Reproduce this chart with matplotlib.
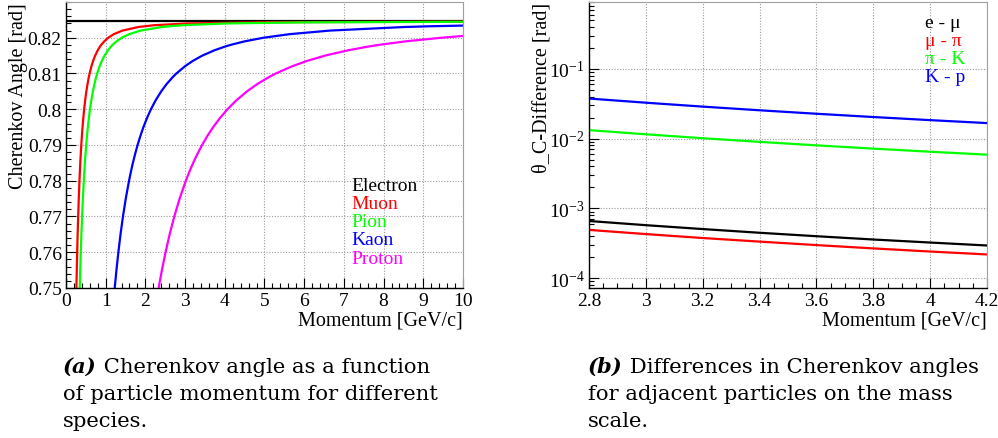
import matplotlib
matplotlib.use("Agg")
import matplotlib.pyplot as plt
from matplotlib.ticker import MultipleLocator, LogLocator, NullFormatter

plt.rcParams['font.family'] = ['Liberation Serif', 'DejaVu Serif']
plt.rcParams['mathtext.fontset'] = 'stix'

# (a) Cherenkov angle vs momentum
theta_grid = [0.75, 0.755, 0.76, 0.765, 0.77, 0.775, 0.78, 0.7825, 0.785, 0.7875,
              0.79, 0.7925, 0.795, 0.7975, 0.80, 0.8025, 0.805, 0.807, 0.809, 0.81,
              0.812, 0.8135, 0.815, 0.8165, 0.8175, 0.818, 0.819, 0.820, 0.821, 0.822,
              0.823, 0.8235, 0.824]

p_electron = [0.0, 10.0]
th_electron = [0.82455, 0.82455]

p_muon = [0.26284, 0.27211, 0.28244, 0.29406, 0.30724, 0.32238, 0.34000, 0.34997, 0.36087, 0.37286,
          0.38612, 0.40092, 0.41755, 0.43644, 0.45808, 0.48345, 0.51348, 0.54196, 0.57580, 0.59526,
          0.64097, 0.68320, 0.73483, 0.80090, 0.85563, 0.88746, 0.96436, 1.06466, 1.20557, 1.42236,
          1.82437, 2.21467, 3.06114, 5.0, 10.0]
th_muon = theta_grid + [0.82434, 0.82450]

p_pion = [0.34719, 0.35944, 0.37309, 0.38844, 0.40585, 0.42584, 0.44911, 0.46229, 0.47668, 0.49252,
          0.51004, 0.52959, 0.55156, 0.57651, 0.60510, 0.63861, 0.67827, 0.71589, 0.76059, 0.78630,
          0.84667, 0.90246, 0.97068, 1.05794, 1.13024, 1.17229, 1.27386, 1.40635, 1.59249, 1.87885,
          2.40984, 2.92542, 4.04357, 6.0, 10.0]
th_pion = theta_grid + [0.8243, 0.82446]

p_kaon = [1.22805, 1.27137, 1.31967, 1.37395, 1.43553, 1.50625, 1.58857, 1.63520, 1.68610, 1.74212,
          1.80409, 1.87323, 1.95093, 2.03921, 2.14032, 2.25883, 2.39914, 2.53220, 2.69033, 2.78125,
          2.99481, 3.19213, 3.43339, 3.74209, 3.99782, 4.14652, 4.50582, 4.97447, 5.63289, 6.64577,
          8.52398, 9.135, 10.0]
th_kaon = theta_grid[:31] + [0.8232, 0.8234]

p_proton = [2.33399, 2.41633, 2.50813, 2.61128, 2.72832, 2.86273, 3.01919, 3.10780, 3.20454, 3.31101,
            3.42878, 3.56019, 3.70787, 3.87565, 4.06783, 4.29305, 4.55971, 4.81261, 5.11315, 5.28595,
            5.69183, 6.06685, 6.52536, 7.11209, 7.59811, 7.88072, 8.56359, 9.45428, 10.0]
th_proton = theta_grid[:28] + [0.8205]

species = ["Electron", "Muon", "Pion", "Kaon", "Proton"]
colors_a = ["black", "#ff0000", "#00ff00", "#0000ff", "#ff00ff"]

# (b) angle differences of neighbouring species
p_diff = [2.8, 3.0, 3.2, 3.4, 3.6, 3.8, 4.0, 4.2]
d_e_mu = [6.58e-4, 5.73e-4, 5.04e-4, 4.46e-4, 3.98e-4, 3.57e-4, 3.23e-4, 2.93e-4]
d_mu_pi = [4.90e-4, 4.27e-4, 3.75e-4, 3.33e-4, 2.97e-4, 2.66e-4, 2.40e-4, 2.18e-4]
d_pi_k = [0.01322, 0.01152, 0.01012, 0.00897, 0.00800, 0.00718, 0.00648, 0.00588]
d_k_p = [0.03754, 0.03270, 0.02874, 0.02546, 0.02271, 0.02038, 0.01839, 0.01669]
pairs = ["e - \u03bc", "\u03bc - \u03c0", "\u03c0 - K", "K - p"]
colors_b = ["black", "#ff0000", "#00ff00", "#0000ff"]

fig = plt.figure(figsize=(9.98, 4.39), dpi=100)
ax1 = fig.add_axes([0.0661, 0.3417, 0.3978, 0.6515])
ax2 = fig.add_axes([0.5902, 0.3417, 0.3988, 0.6515])


def root_style(ax):
    ax.grid(True, which='major', color='#9a9a9a', linestyle=(0, (1, 1.5)), linewidth=0.8)
    ax.set_axisbelow(True)
    ax.tick_params(which='both', direction='in', top=False, right=False, labelsize=14, pad=3)
    ax.tick_params(which='major', length=7, width=0.8)
    ax.tick_params(which='minor', length=3.5, width=0.8)
    for s in ['top', 'right']:
        ax.spines[s].set_color('#a0a0a0')
    for s in ['left', 'bottom']:
        ax.spines[s].set_linewidth(1.0)


# left panel
curves = [(p_electron, th_electron), (p_muon, th_muon), (p_pion, th_pion),
          (p_kaon, th_kaon), (p_proton, th_proton)]
for (p, th), c in zip(curves, colors_a):
    ax1.plot(p, th, color=c, linewidth=1.6, solid_capstyle='butt')
ax1.set_xlim(0, 10)
ax1.set_ylim(0.75, 0.83)
ax1.xaxis.set_major_locator(MultipleLocator(1))
ax1.xaxis.set_minor_locator(MultipleLocator(0.2))
ax1.yaxis.set_minor_locator(MultipleLocator(0.002))
ax1.set_yticks([0.75, 0.76, 0.77, 0.78, 0.79, 0.8, 0.81, 0.82])
ax1.set_yticklabels(["0.75", "0.76", "0.77", "0.78", "0.79", "0.8", "0.81", "0.82"])
root_style(ax1)
ax1.set_xlabel("Momentum [GeV/c]", fontsize=14.5, loc='right', labelpad=1)
ax1.set_ylabel("Cherenkov Angle [rad]", fontsize=14.5, loc='top', labelpad=0)
for i, (name, c) in enumerate(zip(species, colors_a)):
    ax1.text(0.719, 0.36 - i * 0.064, name, color=c, fontsize=14,
             transform=ax1.transAxes, va='center', ha='left')

# right panel
for d, c in zip([d_e_mu, d_mu_pi, d_pi_k, d_k_p], colors_b):
    ax2.plot(p_diff, d, color=c, linewidth=1.6)
ax2.set_yscale('log')
ax2.set_xlim(2.8, 4.2)
ax2.set_ylim(7.2e-5, 0.91)
ax2.xaxis.set_minor_locator(MultipleLocator(0.05))
ax2.yaxis.set_major_locator(LogLocator(base=10, numticks=10))
ax2.yaxis.set_minor_locator(LogLocator(base=10, subs=range(2, 10), numticks=20))
ax2.yaxis.set_minor_formatter(NullFormatter())
ax2.set_xticks([2.8, 3.0, 3.2, 3.4, 3.6, 3.8, 4.0, 4.2])
ax2.set_xticklabels(["2.8", "3", "3.2", "3.4", "3.6", "3.8", "4", "4.2"])
root_style(ax2)
ax2.set_xlabel("Momentum [GeV/c]", fontsize=14.5, loc='right', labelpad=1)
ax2.set_ylabel("\u03b8_C-Difference [rad]", fontsize=14.5, loc='top', labelpad=-2)
for i, (name, c) in enumerate(zip(pairs, colors_b)):
    ax2.text(0.845, 0.93 - i * 0.064, name, color=c, fontsize=14,
             transform=ax2.transAxes, va='center', ha='left')

# captions below the panels
cap_font = 'DejaVu Serif'
cap_size = 15.2
caps = [(0.063, "(a)", " Cherenkov angle as a function",
         ["of particle momentum for different", "species."]),
        (0.589, "(b)", " Differences in Cherenkov angles",
         ["for adjacent particles on the mass", "scale."])]
for x, tag, first, rest in caps:
    t = fig.text(x, 1 - 373 / 439, tag, fontsize=cap_size, family=cap_font,
                 fontweight='bold', fontstyle='italic', va='baseline', ha='left')
    ax1.annotate(first, xy=(1, 0), xycoords=t, fontsize=cap_size, family=cap_font,
                 va='bottom', ha='left', annotation_clip=False)
    for j, line in enumerate(rest):
        fig.text(x, 1 - (373 + 26.8 * (j + 1)) / 439, line, fontsize=cap_size,
                 family=cap_font, va='baseline', ha='left')

fig.savefig("out.png", dpi=100)
